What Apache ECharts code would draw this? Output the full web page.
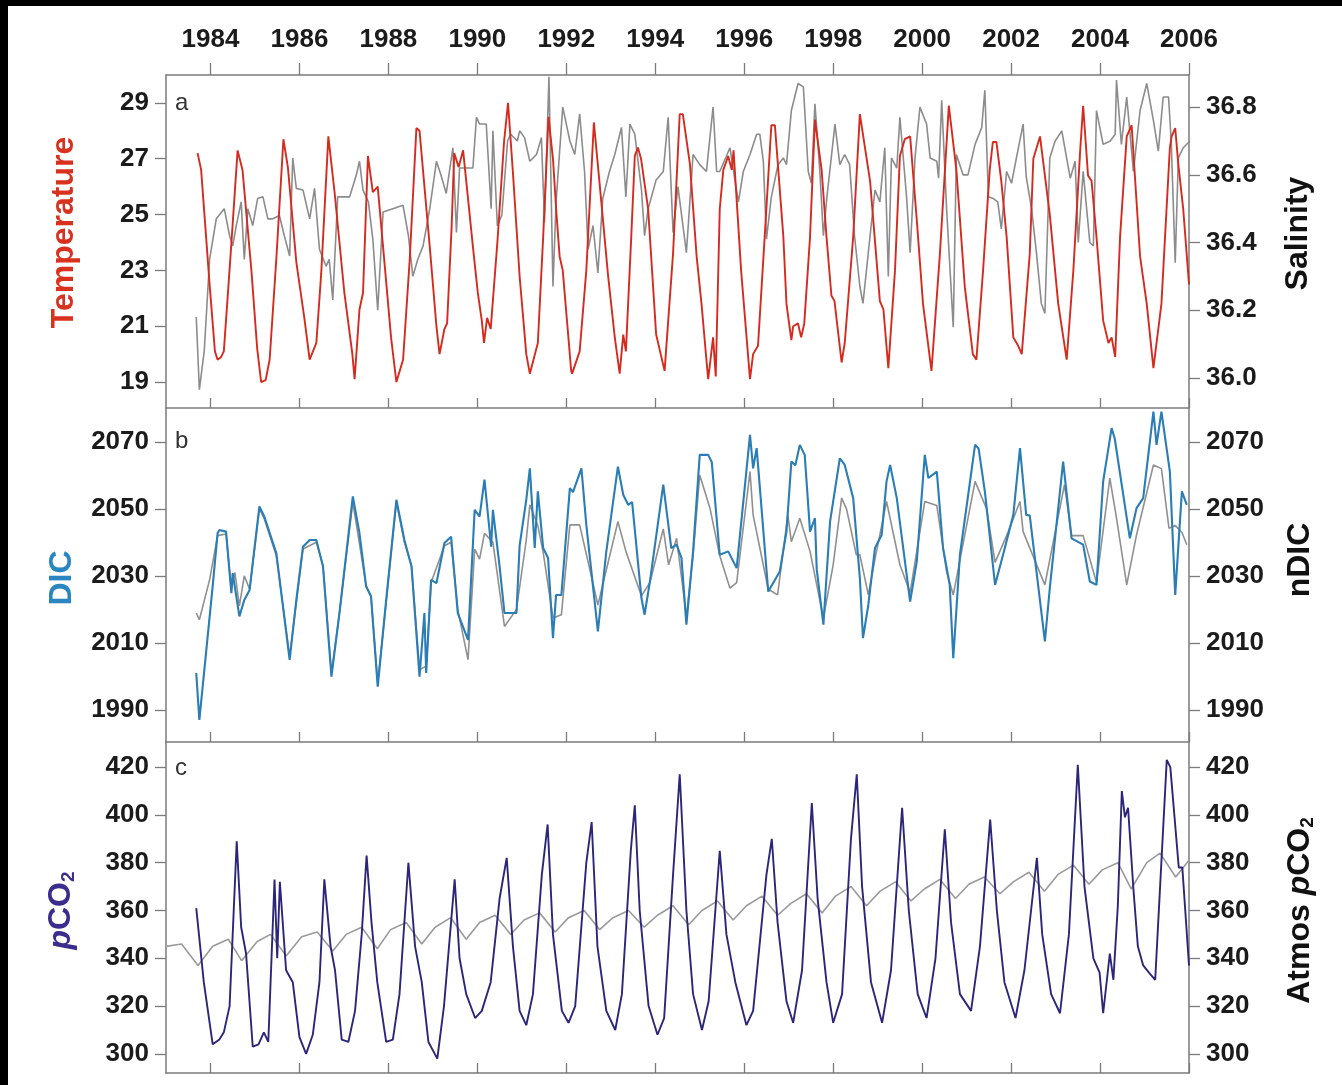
<!DOCTYPE html>
<html>
<head>
<meta charset="utf-8">
<title>Temperature, salinity, DIC and pCO2 time series</title>
<script src="https://cdn.jsdelivr.net/npm/echarts@6/dist/echarts.min.js"></script>
<style>
  html, body { margin: 0; padding: 0; background: #000; }
  #chart { position: absolute; left: 8px; top: 6px; width: 1334px; height: 1079px; background: #fff; }
</style>
</head>
<body>
<div id="chart"></div>
<script>
// ---- data (decimal years / values) ----
const yearTicks = [1984, 1986, 1988, 1990, 1992, 1994, 1996, 1998, 2000, 2002, 2004, 2006];
const tempTicks = [19, 21, 23, 25, 27, 29];
const salTicks = [36.0, 36.2, 36.4, 36.6, 36.8];
const dicTicks = [1990, 2010, 2030, 2050, 2070];
const pco2Ticks = [300, 320, 340, 360, 380, 400, 420];

// panel a: temperature
const tempYear = [1983.71,1983.79,1983.98,1984.1,1984.16,1984.24,1984.3,1984.45,1984.61,1984.72,1984.92,1985.05,1985.14,1985.24,1985.33,1985.48,1985.64,1985.74,1985.93,1986.11,1986.23,1986.38,1986.49,1986.65,1986.79,1987.01,1987.19,1987.24,1987.35,1987.43,1987.54,1987.65,1987.76,1987.88,1988.06,1988.18,1988.33,1988.48,1988.63,1988.7,1988.93,1989.08,1989.15,1989.26,1989.32,1989.42,1989.48,1989.58,1989.68,1989.9,1990.01,1990.1,1990.15,1990.22,1990.3,1990.45,1990.6,1990.69,1990.8,1990.95,1991.1,1991.18,1991.36,1991.48,1991.6,1991.7,1991.78,1991.85,1991.92,1992.11,1992.13,1992.3,1992.45,1992.62,1992.79,1992.94,1993.09,1993.2,1993.28,1993.34,1993.46,1993.54,1993.61,1993.68,1993.84,1994.02,1994.21,1994.4,1994.55,1994.62,1994.78,1994.93,1995.04,1995.15,1995.19,1995.3,1995.36,1995.45,1995.53,1995.64,1995.72,1995.76,1995.93,1996.13,1996.2,1996.31,1996.46,1996.61,1996.69,1996.88,1996.95,1997.06,1997.1,1997.21,1997.28,1997.35,1997.48,1997.59,1997.74,1997.85,1997.96,1998.03,1998.19,1998.26,1998.45,1998.6,1998.83,1999.05,1999.13,1999.24,1999.39,1999.5,1999.61,1999.73,1999.88,2000.02,2000.21,2000.4,2000.6,2000.77,2000.96,2001.14,2001.22,2001.37,2001.52,2001.59,2001.67,2001.78,2001.9,2002.05,2002.16,2002.24,2002.42,2002.5,2002.65,2002.87,2003.06,2003.25,2003.4,2003.55,2003.62,2003.73,2003.81,2003.92,2004.07,2004.19,2004.26,2004.34,2004.45,2004.6,2004.71,2004.9,2005.05,2005.2,2005.38,2005.57,2005.61,2005.69,2005.76,2005.87,2006.0];
const tempVal = [27.2,26.6,22.5,20.1,19.8,19.9,20.1,23.5,27.3,26.6,23.0,20.2,19.0,19.07,19.8,23.4,27.7,26.7,23.3,21.3,19.8,20.4,22.9,27.8,25.8,22.2,20.0,19.1,21.6,22.2,27.1,25.8,26.0,23.85,20.6,19.0,19.8,23.4,28.1,28.0,23.85,21.0,20.0,20.9,21.1,24.5,27.2,26.7,27.3,23.85,22.2,21.2,20.4,21.3,20.9,24.0,27.6,29.0,26.5,22.8,20.0,19.3,20.4,24.2,28.5,27.0,25.0,23.5,23.0,19.4,19.3,20.1,23.0,28.3,25.4,22.8,20.6,19.3,20.7,20.1,24.2,27.1,27.4,27.0,25.2,20.7,19.4,23.6,28.6,28.6,26.8,23.5,21.8,19.8,19.1,20.6,19.2,25.2,26.6,27.1,26.6,27.3,23.0,19.1,20.0,20.3,24.2,28.2,28.2,24.2,21.8,20.5,21.0,21.1,20.6,21.1,24.2,28.4,26.6,24.2,22.1,21.9,19.7,20.4,24.2,28.6,26.2,21.9,21.6,19.5,23.0,27.1,27.7,27.8,24.8,21.8,19.4,23.6,28.9,26.6,22.4,20.0,19.8,23.0,26.6,27.6,27.6,26.2,24.2,20.6,20.3,20.0,23.6,27.0,27.8,25.0,21.8,19.8,23.0,27.2,28.9,26.4,26.2,24.2,21.2,20.4,20.6,19.9,24.2,27.8,28.2,23.5,21.8,19.5,21.8,27.4,27.8,28.1,26.8,25.2,22.5];

// panel a: salinity
const salYear = [1983.68,1983.75,1983.86,1983.98,1984.13,1984.31,1984.43,1984.5,1984.58,1984.69,1984.76,1984.84,1984.95,1985.06,1985.18,1985.29,1985.4,1985.55,1985.66,1985.78,1985.85,1985.93,1986.08,1986.23,1986.34,1986.45,1986.6,1986.67,1986.75,1986.86,1987.13,1987.28,1987.35,1987.43,1987.55,1987.65,1987.76,1987.88,1988.1,1988.33,1988.45,1988.55,1988.66,1988.78,1988.93,1989.08,1989.18,1989.3,1989.45,1989.53,1989.6,1989.71,1989.9,1989.98,1990.05,1990.2,1990.31,1990.35,1990.45,1990.55,1990.68,1990.75,1990.9,1990.95,1991.06,1991.18,1991.33,1991.44,1991.51,1991.61,1991.7,1991.77,1991.92,1992.08,1992.19,1992.3,1992.41,1992.49,1992.6,1992.71,1992.82,1992.97,1993.09,1993.24,1993.34,1993.43,1993.54,1993.69,1993.76,1993.84,1994.02,1994.18,1994.29,1994.4,1994.51,1994.7,1994.85,1995.0,1995.15,1995.3,1995.38,1995.45,1995.68,1995.79,1995.87,1995.98,1996.13,1996.28,1996.35,1996.43,1996.5,1996.61,1996.76,1996.88,1996.95,1997.06,1997.21,1997.33,1997.44,1997.51,1997.59,1997.7,1997.78,1997.86,1998.04,1998.15,1998.26,1998.37,1998.48,1998.6,1998.67,1998.83,1998.94,1999.05,1999.16,1999.24,1999.31,1999.43,1999.5,1999.65,1999.73,1999.84,1999.95,2000.1,2000.18,2000.33,2000.37,2000.44,2000.55,2000.7,2000.77,2000.92,2001.03,2001.19,2001.34,2001.41,2001.49,2001.6,2001.7,2001.78,2001.9,2002.01,2002.12,2002.27,2002.34,2002.46,2002.57,2002.68,2002.76,2002.87,2002.99,2003.14,2003.33,2003.44,2003.51,2003.62,2003.77,2003.85,2003.92,2004.07,2004.23,2004.34,2004.37,2004.48,2004.6,2004.75,2004.9,2005.05,2005.2,2005.31,2005.42,2005.54,2005.6,2005.69,2005.76,2005.87,2006.02];
const salVal = [36.18,35.965,36.08,36.35,36.47,36.5,36.42,36.39,36.45,36.52,36.35,36.5,36.45,36.53,36.535,36.47,36.47,36.48,36.42,36.36,36.65,36.56,36.555,36.47,36.56,36.38,36.33,36.35,36.23,36.535,36.535,36.6,36.64,36.555,36.52,36.41,36.2,36.49,36.5,36.51,36.42,36.3,36.35,36.39,36.5,36.64,36.6,36.545,36.68,36.43,36.62,36.62,36.62,36.77,36.75,36.75,36.5,36.73,36.45,36.48,36.7,36.72,36.7,36.73,36.71,36.64,36.66,36.71,36.46,36.89,36.27,36.52,36.8,36.7,36.66,36.78,36.61,36.38,36.45,36.31,36.53,36.61,36.66,36.74,36.535,36.75,36.72,36.555,36.42,36.5,36.585,36.61,36.77,36.43,36.565,36.37,36.66,36.63,36.61,36.8,36.61,36.61,36.68,36.585,36.52,36.61,36.66,36.72,36.72,36.64,36.41,36.535,36.63,36.65,36.63,36.79,36.87,36.86,36.61,36.575,36.81,36.61,36.42,36.535,36.75,36.63,36.66,36.63,36.42,36.27,36.22,36.42,36.555,36.52,36.68,36.3,36.65,36.62,36.77,36.535,36.37,36.65,36.8,36.75,36.65,36.64,36.59,36.82,36.5,36.15,36.66,36.6,36.6,36.69,36.74,36.85,36.535,36.53,36.52,36.44,36.61,36.575,36.65,36.75,36.595,36.5,36.37,36.22,36.19,36.65,36.7,36.73,36.59,36.64,36.4,36.61,36.4,36.39,36.79,36.69,36.7,36.72,36.88,36.69,36.83,36.61,36.79,36.87,36.76,36.67,36.83,36.83,36.7,36.34,36.65,36.68,36.7];

// panel b: DIC
const dicYear = [1983.68,1983.75,1983.9,1984.05,1984.16,1984.2,1984.35,1984.47,1984.5,1984.65,1984.76,1984.88,1985.1,1985.21,1985.48,1985.78,1985.93,1986.08,1986.23,1986.38,1986.53,1986.72,1986.9,1987.2,1987.35,1987.5,1987.61,1987.76,1987.95,1988.18,1988.36,1988.52,1988.7,1988.81,1988.85,1988.96,1989.08,1989.26,1989.41,1989.56,1989.79,1989.94,1990.05,1990.16,1990.31,1990.35,1990.5,1990.61,1990.88,1990.95,1991.1,1991.18,1991.29,1991.36,1991.48,1991.59,1991.7,1991.77,1991.89,1992.08,1992.15,1992.34,1992.45,1992.71,1992.9,1993.16,1993.28,1993.39,1993.48,1993.69,1993.76,1993.88,1994.18,1994.36,1994.48,1994.59,1994.7,1994.85,1995.0,1995.19,1995.27,1995.45,1995.64,1995.83,1996.13,1996.2,1996.28,1996.54,1996.8,1996.95,1997.06,1997.15,1997.25,1997.36,1997.48,1997.59,1997.63,1997.78,1997.93,1998.15,1998.26,1998.45,1998.6,1998.67,1998.79,1998.94,1999.09,1999.2,1999.28,1999.43,1999.73,1999.88,2000.06,2000.14,2000.33,2000.47,2000.62,2000.7,2000.85,2001.19,2001.27,2001.41,2001.64,2001.82,2002.05,2002.2,2002.34,2002.42,2002.76,2002.87,2003.17,2003.36,2003.62,2003.77,2003.92,2004.07,2004.26,2004.33,2004.67,2004.82,2004.97,2005.2,2005.27,2005.38,2005.57,2005.69,2005.84,2005.95];
const dicVal = [2001,1987,2007,2027,2042.7,2043.7,2043.2,2024.8,2030.8,2017.9,2022.8,2025.8,2050.7,2047.7,2036.8,2004.9,2022.8,2038.7,2040.7,2040.7,2032.8,1999.9,2018.9,2053.7,2042.7,2026.8,2023.8,1996.9,2022.8,2052.7,2040.7,2032.8,1999.9,2018.9,2001,2028.8,2027.8,2039.8,2041.7,2018.9,2010.9,2049.7,2047.7,2058.7,2038.7,2049.7,2032.8,2018.9,2018.9,2039,2052.7,2062.1,2038.3,2055.2,2038.3,2035.3,2011.4,2024.3,2024.3,2056.2,2055,2062.1,2045.2,2013.4,2037.3,2062.6,2054.2,2051.2,2052,2023.3,2018.4,2028.3,2057.2,2038.3,2039.3,2035.3,2015.4,2037.3,2066.1,2066.1,2064,2036.3,2037.3,2032.3,2072.1,2062.1,2068.1,2025.3,2031.3,2043.2,2064.1,2063,2069.1,2066.1,2043.2,2047.2,2032,2015.4,2046.2,2065.1,2063.1,2053.2,2029.3,2011.4,2021.3,2038.3,2042.2,2058.2,2063.1,2053.2,2022.3,2034.3,2066.1,2059.2,2061.1,2038.3,2027.3,2005.4,2036.3,2069.1,2068,2055.2,2027.3,2036.3,2048.2,2068.1,2048.2,2048,2010.4,2026.3,2064.1,2041.2,2039.3,2028.3,2027.3,2058.2,2074.1,2071,2041.2,2050.2,2053.2,2079,2069.1,2079,2061.1,2024.3,2055.2,2051.2];

// panel b: nDIC
const ndicYear = [1983.68,1983.75,1983.98,1984.16,1984.35,1984.47,1984.55,1984.65,1984.76,1984.88,1985.1,1985.21,1985.48,1985.78,1985.93,1986.08,1986.38,1986.53,1986.72,1986.9,1987.2,1987.5,1987.61,1987.76,1987.95,1988.18,1988.36,1988.52,1988.7,1988.85,1988.96,1989.26,1989.41,1989.56,1989.79,1989.94,1990.05,1990.16,1990.35,1990.61,1990.88,1991.1,1991.18,1991.36,1991.48,1991.7,1991.89,1992.08,1992.3,1992.71,1993.16,1993.34,1993.69,1993.88,1994.18,1994.3,1994.48,1994.7,1994.85,1995.0,1995.23,1995.45,1995.68,1995.83,1996.13,1996.2,1996.54,1996.75,1996.98,1997.06,1997.25,1997.48,1997.78,1998.0,1998.19,1998.3,1998.52,1998.6,1998.79,1998.94,1999.2,1999.5,1999.73,2000.06,2000.33,2000.55,2000.7,2001.19,2001.45,2001.64,2001.9,2002.2,2002.27,2002.76,2003.2,2003.36,2003.62,2003.92,2004.22,2004.37,2004.6,2004.82,2005.2,2005.38,2005.55,2005.69,2005.84,2005.95];
const ndicVal = [2018.9,2016.9,2028.8,2042,2042.5,2026,2031,2021,2030,2026,2050,2047,2036,2006,2022,2038,2040,2033,2001,2019,2052,2027,2024,1998,2022,2052,2040,2033,2002,2003,2028,2039,2040,2020,2005,2038,2035,2042.7,2040,2014.9,2020,2040.7,2051.2,2045,2037,2017.4,2018.4,2045.2,2045.2,2021.3,2046.2,2037.3,2024,2028,2044,2033.3,2041.2,2018,2036,2060.1,2050.2,2036,2026.3,2028,2061.1,2048.2,2026,2024.3,2048.2,2040.2,2047.2,2037.3,2017.4,2033.3,2053.2,2050,2036.3,2036.3,2024.3,2035,2052.2,2033.3,2025,2052.2,2051,2031.3,2024.3,2058.2,2050,2034,2042,2052.2,2043.2,2027.3,2057.2,2042,2042,2028,2059.2,2047.2,2027.3,2042.2,2063.1,2062,2044.2,2045,2043,2039.3];

// panel c: surface pCO2
const pco2Year = [1983.68,1983.85,1984.05,1984.2,1984.3,1984.43,1984.59,1984.69,1984.8,1984.95,1985.08,1985.2,1985.3,1985.44,1985.5,1985.56,1985.7,1985.85,1986.0,1986.15,1986.3,1986.45,1986.56,1986.7,1986.8,1986.95,1987.1,1987.25,1987.4,1987.51,1987.62,1987.75,1987.95,1988.1,1988.25,1988.45,1988.6,1988.75,1988.9,1989.1,1989.25,1989.49,1989.6,1989.75,1989.95,1990.1,1990.3,1990.5,1990.66,1990.8,1990.95,1991.1,1991.25,1991.45,1991.58,1991.7,1991.9,1992.05,1992.2,1992.45,1992.57,1992.7,1992.9,1993.1,1993.25,1993.45,1993.54,1993.65,1993.85,1994.05,1994.2,1994.4,1994.55,1994.7,1994.85,1995.05,1995.2,1995.45,1995.6,1995.8,1996.05,1996.2,1996.5,1996.62,1996.75,1996.95,1997.1,1997.3,1997.52,1997.65,1997.85,1998.0,1998.2,1998.4,1998.53,1998.65,1998.85,1999.1,1999.3,1999.55,1999.7,1999.9,2000.1,2000.3,2000.51,2000.65,2000.85,2001.1,2001.3,2001.53,2001.68,2001.85,2002.1,2002.3,2002.58,2002.7,2002.9,2003.1,2003.3,2003.5,2003.65,2003.85,2003.99,2004.07,2004.22,2004.3,2004.4,2004.49,2004.56,2004.63,2004.75,2004.85,2004.97,2005.1,2005.24,2005.5,2005.58,2005.77,2005.85,2006.0];
const pco2Val = [361,330,304,306,309,320,389,353,342,303,304,309,305,373,340,372,335,330,307,300,308,330,373,345,335,306,305,318,350,383,355,330,305,306,325,380,345,330,305,298,320,373,340,325,315,318,330,365,382,345,318,312,325,375,396,350,318,313,320,380,397,345,318,310,325,385,404,360,320,308,315,375,417,360,325,310,322,385,350,330,312,318,375,390,355,322,313,335,405,365,330,313,325,390,417,370,330,313,335,403,360,325,315,340,394,355,325,318,345,398,360,330,315,335,382,350,325,317,350,421,370,340,334,317,342,331,362,410,399,403,369,345,337,334,331,423,420,378,378,337];

// panel c: atmospheric pCO2
const atmYear = [1983.0,1983.35,1983.72,1984.05,1984.4,1984.7,1985.05,1985.35,1985.7,1986.05,1986.4,1986.75,1987.05,1987.4,1987.75,1988.05,1988.4,1988.75,1989.05,1989.4,1989.75,1990.05,1990.4,1990.75,1991.05,1991.4,1991.75,1992.05,1992.4,1992.75,1993.05,1993.4,1993.75,1994.05,1994.4,1994.75,1995.05,1995.4,1995.75,1996.05,1996.4,1996.75,1997.05,1997.4,1997.75,1998.05,1998.4,1998.75,1999.05,1999.4,1999.75,2000.05,2000.4,2000.75,2001.05,2001.4,2001.75,2002.05,2002.4,2002.75,2003.05,2003.4,2003.75,2004.05,2004.4,2004.7,2005.05,2005.35,2005.7,2006.0];
const atmVal = [345,346,337,345,348,339,347,350,341,349,351,343,350,353,344,352,355,346,353,357,348,355,358,350,356,359,351,357,360,352,357,360,353,358,362,354,360,364,356,362,366,358,363,367,359,366,370,362,368,372,364,369,373,365,371,374,367,372,376,368,375,379,371,377,380,369,380,384,374,381];

// ---- chart ----
const pairs = (xs, ys) => xs.map((x, i) => [x, ys[i]]);

const frameColor = '#7b7b7b';
const font = '"Liberation Sans", Arial, sans-serif';
const tickLabel = { fontFamily: font, fontSize: 26, fontWeight: 'bold', color: '#1b1b1b' };
const axisLine = { show: true, onZero: false, lineStyle: { color: frameColor, width: 1.5 } };

function bottomX(gridIndex) {
  return {
    type: 'value', gridIndex, position: 'bottom', min: 1983, max: 2006,
    axisLine,
    axisTick: { show: true, inside: true, length: 10, customValues: yearTicks, lineStyle: { color: frameColor, width: 1.3 } },
    axisLabel: { show: false },
    splitLine: { show: false }
  };
}

// shift = how far the rotated title is pushed up from the panel centre
function yAx(gridIndex, position, min, max, ticks, name, nameColor, nameGap, shift, fmt, rich) {
  return {
    type: 'value', gridIndex, position, min, max,
    axisLine,
    axisTick: { show: true, inside: false, length: 11, customValues: ticks, lineStyle: { color: frameColor, width: 1.3 } },
    axisLabel: Object.assign({ customValues: ticks, margin: 17, formatter: fmt || (v => String(v)) }, tickLabel),
    splitLine: { show: false },
    name, nameLocation: 'middle', nameRotate: 90, nameGap,
    nameTextStyle: { fontFamily: font, fontSize: 32, fontWeight: 'bold', color: nameColor,
      padding: [0, 0, 0, shift * 2], rich: rich || {} }
  };
}

function co2Rich(color) {
  return {
    i: { fontFamily: font, fontSize: 32, fontWeight: 'bold', fontStyle: 'italic', color },
    s: { fontFamily: font, fontSize: 19, fontWeight: 'bold', color, verticalAlign: 'bottom', padding: [14, 0, 0, 0] }
  };
}

const chart = echarts.init(document.getElementById('chart'));

const option = {
  backgroundColor: '#fff',
  animation: false,
  grid: [
    { left: 158, right: 153, top: 69, height: 333 },
    { left: 158, right: 153, top: 402, height: 334 },
    { left: 158, right: 153, top: 736, height: 331 }
  ],
  xAxis: [
    {
      type: 'value', gridIndex: 0, position: 'top', min: 1983, max: 2006,
      axisLine,
      axisTick: { show: true, inside: false, length: 12, customValues: yearTicks, lineStyle: { color: frameColor, width: 1.3 } },
      axisLabel: Object.assign({ customValues: yearTicks, margin: 22, formatter: v => String(v) }, tickLabel),
      splitLine: { show: false }
    },
    bottomX(0), bottomX(1), bottomX(2)
  ],
  yAxis: [
    yAx(0, 'left', 18.07, 30.0, tempTicks, 'Temperature', '#d8321f', 86, 9),
    yAx(0, 'right', 35.911, 36.895, salTicks, 'Salinity', '#111', 93, 8, v => v.toFixed(1)),
    yAx(1, 'left', 1980.4, 2080.1, dicTicks, 'DIC', '#2a86c0', 88, -3),
    yAx(1, 'right', 1980.4, 2080.1, dicTicks, 'nDIC', '#111', 95, 15),
    yAx(2, 'left', 292, 430.5, pco2Ticks, '{i|p}CO{s|2}', '#3a2d8c', 88, -3, null, co2Rich('#3a2d8c')),
    yAx(2, 'right', 292, 430.5, pco2Ticks, 'Atmos {i|p}CO{s|2}', '#111', 95, -3, null, co2Rich('#111'))
  ],
  graphic: [
    { type: 'text', left: 167, top: 85, style: { text: 'a', font: '24px ' + font, fill: '#333' } },
    { type: 'text', left: 167, top: 423, style: { text: 'b', font: '24px ' + font, fill: '#333' } },
    { type: 'text', left: 167, top: 750, style: { text: 'c', font: '24px ' + font, fill: '#333' } }
  ],
  series: [
    { name: 'Salinity', type: 'line', xAxisIndex: 0, yAxisIndex: 1, data: pairs(salYear, salVal),
      symbol: 'none', lineStyle: { color: '#8c8c8c', width: 1.6 } },
    { name: 'Temperature', type: 'line', xAxisIndex: 0, yAxisIndex: 0, data: pairs(tempYear, tempVal),
      symbol: 'none', lineStyle: { color: '#d42b1e', width: 1.9 } },
    { name: 'nDIC', type: 'line', xAxisIndex: 2, yAxisIndex: 3, data: pairs(ndicYear, ndicVal),
      symbol: 'none', lineStyle: { color: '#909090', width: 1.6 } },
    { name: 'DIC', type: 'line', xAxisIndex: 2, yAxisIndex: 2, data: pairs(dicYear, dicVal),
      symbol: 'none', lineStyle: { color: '#2a7db5', width: 2.1 } },
    { name: 'Atmos pCO2', type: 'line', xAxisIndex: 3, yAxisIndex: 5, data: pairs(atmYear, atmVal),
      symbol: 'none', lineStyle: { color: '#9a9a9a', width: 1.6 } },
    { name: 'pCO2', type: 'line', xAxisIndex: 3, yAxisIndex: 4, data: pairs(pco2Year, pco2Val),
      symbol: 'none', lineStyle: { color: '#2b2679', width: 1.9 } }
  ]
};

chart.setOption(option);
</script>
</body>
</html>
